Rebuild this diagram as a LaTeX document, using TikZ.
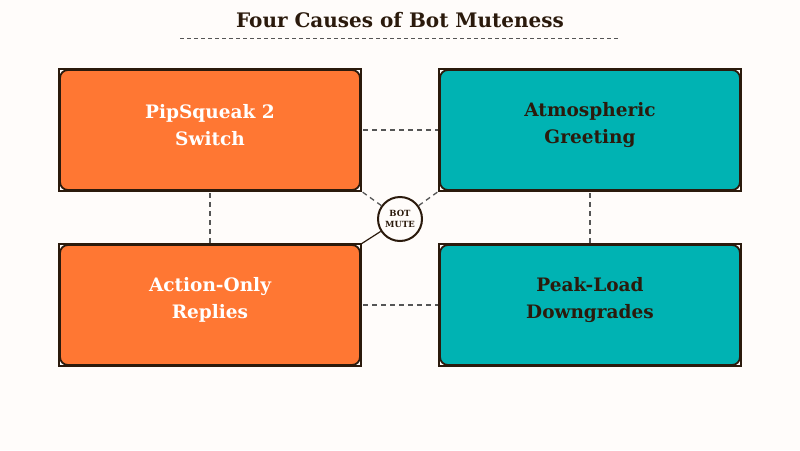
\documentclass[tikz,border=0pt]{standalone}
\usepackage{fontspec}
\setmainfont{DejaVu Serif}
\definecolor{bgcol}{HTML}{FFFCFA}
\definecolor{inkcol}{HTML}{2B1A0C}
\definecolor{orangecol}{HTML}{FF7733}
\definecolor{tealcol}{HTML}{00B3B3}
\definecolor{dashcol}{HTML}{555555}
\tikzset{
  causebox/.style={rounded corners=8pt,draw=inkcol,line width=1.8pt,
    minimum width=300pt,minimum height=120pt,align=center},
  boxtext/.style={align=center,font=\fontsize{18.5}{27}\selectfont\bfseries},
  warmbox/.style={causebox,fill=orangecol},
  coolbox/.style={causebox,fill=tealcol},
  link/.style={dashcol,line width=1.3pt,dash pattern=on 5pt off 4pt},
}
\begin{document}
\begin{tikzpicture}[x=1pt,y=-1pt]
\useasboundingbox[fill=bgcol] (0,0) rectangle (800,450);

\node[font=\fontsize{20}{22}\selectfont\bfseries,text=inkcol] (title) at (400,20) {Four Causes of Bot Muteness};
\draw[link,line width=1pt,dash pattern=on 4pt off 3pt] (180,38) -- (618,38);

% links first, boxes on top
\coordinate (pipc) at (210,130);
\coordinate (atmc) at (590,130);
\coordinate (actc) at (210,305);
\coordinate (peakc) at (590,305);
\draw[link] (pipc) -- (atmc);
\draw[link] (actc) -- (peakc);
\draw[link] (pipc) -- (actc);
\draw[link] (atmc) -- (peakc);

\node[warmbox] (pip) at (pipc) {};
\node[coolbox] (atm) at (atmc) {};
\node[warmbox] (act) at (actc) {};
\node[coolbox] (peak) at (peakc) {};
\foreach \b in {pip,atm,act,peak}
\draw[inkcol,line width=1.8pt] (\b.south west) rectangle (\b.north east);

\node[boxtext,text=white] (piptext) at ([yshift=5pt]pip) {PipSqueak 2\\Switch};
\node[boxtext,text=inkcol] (atmtext) at ([yshift=5pt]atm) {Atmospheric\\Greeting};
\node[boxtext,text=white] (acttext) at ([yshift=5pt]act) {Action-Only\\Replies};
\node[boxtext,text=inkcol] (peaktext) at ([yshift=5pt]peak) {Peak-Load\\Downgrades};

\node[circle,draw=inkcol,fill=bgcol,line width=2pt,minimum size=44pt,inner sep=0pt,
  align=center,text=inkcol,font=\fontsize{8.5}{10.5}\selectfont\bfseries] (mute) at (400,219) {BOT\\MUTE};
\draw[link] (mute) -- (pip.south east);
\draw[link] (mute) -- (atm.south west);
\draw[inkcol,line width=1.2pt] (mute) -- (act.north east);
\end{tikzpicture}
\end{document}
